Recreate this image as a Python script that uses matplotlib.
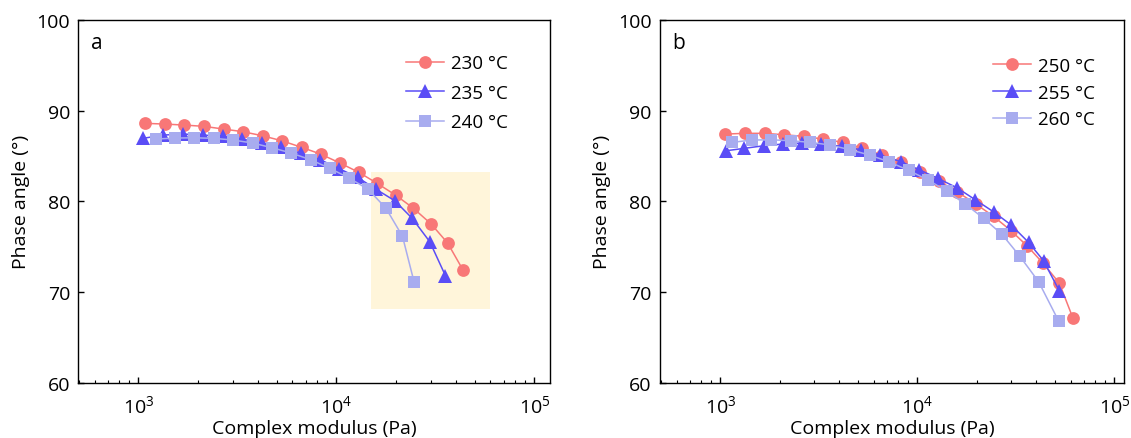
import numpy as np
import matplotlib
matplotlib.use("Agg")
import matplotlib.pyplot as plt
from matplotlib.patches import Rectangle
from matplotlib.ticker import LogLocator, NullFormatter

plt.rcParams['font.family'] = ['Open Sans', 'DejaVu Sans']
plt.rcParams['mathtext.fontset'] = 'custom'
plt.rcParams['mathtext.rm'] = 'Open Sans'

# ---------------- Data (log10 of complex modulus, phase angle) ----------------
# Panel a
a_230_logG = [3.033, 3.134, 3.231, 3.331, 3.430, 3.528, 3.627, 3.725, 3.824, 3.920,
              4.018, 4.114, 4.206, 4.299, 4.388, 4.479, 4.562, 4.640]
a_230_phase = [88.59, 88.51, 88.40, 88.26, 87.96, 87.67, 87.22, 86.67, 85.95, 85.21,
               84.22, 83.19, 81.98, 80.69, 79.26, 77.50, 75.41, 72.43]
a_235_logG = [3.024, 3.125, 3.226, 3.324, 3.425, 3.524, 3.622, 3.721, 3.819, 3.917,
              4.013, 4.107, 4.199, 4.295, 4.383, 4.472, 4.551]
a_235_phase = [86.94, 87.30, 87.41, 87.30, 87.16, 86.86, 86.42, 85.95, 85.32, 84.60,
               83.61, 82.64, 81.35, 80.07, 78.13, 75.55, 71.81]
a_240_logG = [3.088, 3.186, 3.282, 3.380, 3.479, 3.577, 3.676, 3.772, 3.870, 3.966,
              4.064, 4.159, 4.250, 4.334, 4.393]
a_240_phase = [86.86, 86.97, 87.00, 86.94, 86.75, 86.42, 85.90, 85.32, 84.58, 83.65,
               82.57, 81.35, 79.26, 76.15, 71.08]

# Panel b
b_250_logG = [3.025, 3.127, 3.225, 3.325, 3.423, 3.521, 3.621, 3.721, 3.821, 3.917,
              4.012, 4.108, 4.202, 4.298, 4.387, 4.476, 4.557, 4.638, 4.721, 4.790]
b_250_phase = [87.41, 87.49, 87.49, 87.33, 87.16, 86.86, 86.50, 85.87, 85.10, 84.30,
               83.26, 82.27, 81.06, 79.70, 78.35, 76.76, 75.11, 73.20, 71.00, 67.15]
b_255_logG = [3.029, 3.123, 3.220, 3.318, 3.415, 3.511, 3.618, 3.714, 3.812, 3.916,
              4.010, 4.105, 4.202, 4.294, 4.387, 4.477, 4.565, 4.641, 4.721]
b_255_phase = [85.57, 85.84, 86.12, 86.31, 86.42, 86.31, 86.06, 85.68, 85.10, 84.38,
               83.48, 82.53, 81.49, 80.18, 78.85, 77.39, 75.48, 73.46, 70.15]
b_260_logG = [3.062, 3.161, 3.259, 3.359, 3.458, 3.558, 3.660, 3.758, 3.856, 3.956,
              4.054, 4.149, 4.244, 4.337, 4.430, 4.519, 4.616, 4.717]
b_260_phase = [86.50, 86.75, 86.78, 86.67, 86.50, 86.20, 85.68, 85.10, 84.36, 83.41,
               82.37, 81.13, 79.70, 78.13, 76.37, 74.00, 71.15, 66.85]

labels_a = ['230 °C', '235 °C', '240 °C']
labels_b = ['250 °C', '255 °C', '260 °C']
highlight_x = [1.5e4, 6.0e4]
highlight_y = [68.2, 83.2]

# ---------------- Styles ----------------
c_red = '#F87777'
c_blue = '#5A4DF6'
c_lav = '#A8ACEF'
styles = [dict(color=c_red, marker='o', ms=9.2),
          dict(color=c_blue, marker='^', ms=10),
          dict(color=c_lav, marker='s', ms=8)]

fig = plt.figure(figsize=(11.31, 4.39), dpi=100)
ax1 = fig.add_axes([0.0694, 0.1253, 0.4169, 0.8275])
ax2 = fig.add_axes([0.5836, 0.1253, 0.4102, 0.8275])

def plot_panel(ax, series, labels, xlim, letter, leg_anchor, labspace):
    for (lg, ph), st, lab in zip(series, styles, labels):
        ax.plot(10 ** np.array(lg), ph, color=st['color'], marker=st['marker'],
                ms=st['ms'], lw=1.1, mew=0, label=lab, zorder=3)
    ax.set_xscale('log')
    ax.set_xlim(*xlim)
    ax.set_ylim(60, 100)
    ax.set_yticks([60, 70, 80, 90, 100])
    ax.xaxis.set_major_locator(LogLocator(base=10, numticks=10))
    ax.xaxis.set_minor_locator(LogLocator(base=10, subs=np.arange(2, 10), numticks=10))
    ax.xaxis.set_minor_formatter(NullFormatter())
    ax.tick_params(which='major', direction='in', length=4, width=1, labelsize=14, pad=8)
    ax.tick_params(which='minor', direction='in', length=2.5, width=0.8)
    ax.tick_params(axis='y', which='major', pad=6)
    for s in ax.spines.values():
        s.set_linewidth(1.0)
    ax.set_xlabel('Complex modulus (Pa)', fontsize=14, labelpad=2)
    ax.set_ylabel('Phase angle (°)', fontsize=14, labelpad=5)
    ax.text(0.026, 0.965, letter, transform=ax.transAxes, fontsize=15, va='top', ha='left')
    ax.legend(loc='upper left', bbox_to_anchor=leg_anchor, frameon=False, fontsize=13.5,
              handlelength=2.0, handletextpad=0.4, labelspacing=labspace,
              borderpad=0, borderaxespad=0)

plot_panel(ax1, [(a_230_logG, a_230_phase), (a_235_logG, a_235_phase), (a_240_logG, a_240_phase)],
           labels_a, (498, 1.2e5), 'a', (0.695, 0.905), 0.62)
ax1.add_patch(Rectangle((highlight_x[0], highlight_y[0]), highlight_x[1] - highlight_x[0],
                        highlight_y[1] - highlight_y[0], facecolor='#FFF5DA', edgecolor='none', zorder=1))

plot_panel(ax2, [(b_250_logG, b_250_phase), (b_255_logG, b_255_phase), (b_260_logG, b_260_phase)],
           labels_b, (495, 1.12e5), 'b', (0.718, 0.898), 0.47)

fig.savefig('out.png', dpi=100)
